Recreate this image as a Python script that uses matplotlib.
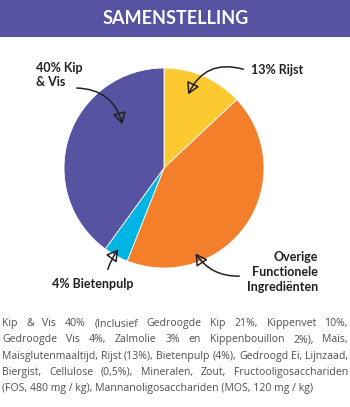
import matplotlib
matplotlib.use("Agg")
import matplotlib.pyplot as plt
from matplotlib.patches import Rectangle

# canvas size in pixels (dpi 100)
W, H = 350, 407

parts = ["Rijst", "Overige Functionele Ingrediënten", "Bietenpulp", "Kip & Vis"]
shares = [13, 43, 4, 40]
colors = ["#FDC931", "#F47F2B", "#00B4E3", "#5653A2"]
labels = ["13% Rijst", "Overige\nFunctionele\nIngrediënten", "4% Bietenpulp", "40% Kip\n& Vis"]

title = "SAMENSTELLING"
footer = [
    "Kip & Vis 40% (Inclusief Gedroogde Kip 21%, Kippenvet 10%,",
    "Gedroogde Vis 4%, Zalmolie 3% en Kippenbouillon 2%), Maïs,",
    "Maïsglutenmaaltijd, Rijst (13%), Bietenpulp (4%), Gedroogd Ei, Lijnzaad,",
    "Biergist, Cellulose (0,5%), Mineralen, Zout, Fructooligosacchariden",
    "(FOS, 480 mg / kg), Mannanoligosacchariden (MOS, 120 mg / kg)",
]

plt.rcParams["font.family"] = ["Lato", "DejaVu Sans"]
ink = "#231F20"

fig = plt.figure(figsize=(W / 100, H / 100), dpi=100)
ax = fig.add_axes([0, 0, 1, 1])


def y(top):
    """pixel row measured from the top -> data y"""
    return H - top


# header band
ax.add_patch(Rectangle((0, y(37)), W, 37, color="#5651A0", lw=0))
ax.text(176, y(19), title, color="white", fontsize=13, fontweight="bold",
        ha="center", va="center")

# pie
ax.pie(shares, colors=colors, startangle=90, counterclock=False,
       center=(164, y(168)), radius=100, frame=True,
       wedgeprops=dict(edgecolor="white", linewidth=0.6))
ax.set_xlim(0, W)
ax.set_ylim(0, H)
ax.set_aspect("equal")
ax.axis("off")

# labels with curved pointers: (text xy, ha, pointer start, pointer end, rad)
callouts = [
    ((251, 70), "left", (246, 70), (187, 97), 0.45),
    ((318, 272), "right", (242, 276), (194, 251), -0.3),
    ((93, 284), "center", (107, 272), (120, 247), -0.1),
    ((36, 75), "left", (74, 88), (123, 127), -0.4),
]
for lab, (txy, ha, p0, p1, rad) in zip(labels, callouts):
    ax.text(txy[0], y(txy[1]), lab, fontsize=9, fontweight="bold", color=ink,
            ha=ha, va="center", linespacing=1.3)
    ax.annotate("", xy=(p1[0], y(p1[1])), xytext=(p0[0], y(p0[1])),
                arrowprops=dict(arrowstyle="-|>,head_length=0.7,head_width=0.4",
                                connectionstyle=f"arc3,rad={rad}",
                                color=ink, lw=1.1, fc="none"))

# justified footer paragraph
renderer = fig.canvas.get_renderer()
x0, x1 = 2, 348
fkw = dict(fontsize=7.5, color="#505050", va="baseline", family="Open Sans")


def width_of(s):
    t = ax.text(0, 0, s, **fkw)
    wd = t.get_window_extent(renderer).width
    t.remove()
    return wd


# scale the size so the last line is ~335 px but the longest line still fits
scale = min(335 / width_of(footer[-1]), 344 / width_of(footer[2]))
fkw["fontsize"] *= scale

for i, line in enumerate(footer):
    ly = y(326 + i * 16.3)
    if i == len(footer) - 1:
        ax.text(x0, ly, line, ha="left", **fkw)
        continue
    words = line.split()
    widths = [width_of(w) for w in words]
    gap = (x1 - x0 - sum(widths)) / (len(words) - 1)
    x = x0
    for w, wd in zip(words, widths):
        ax.text(x, ly, w, ha="left", **fkw)
        x += wd + gap

fig.savefig("out.png", dpi=100)
